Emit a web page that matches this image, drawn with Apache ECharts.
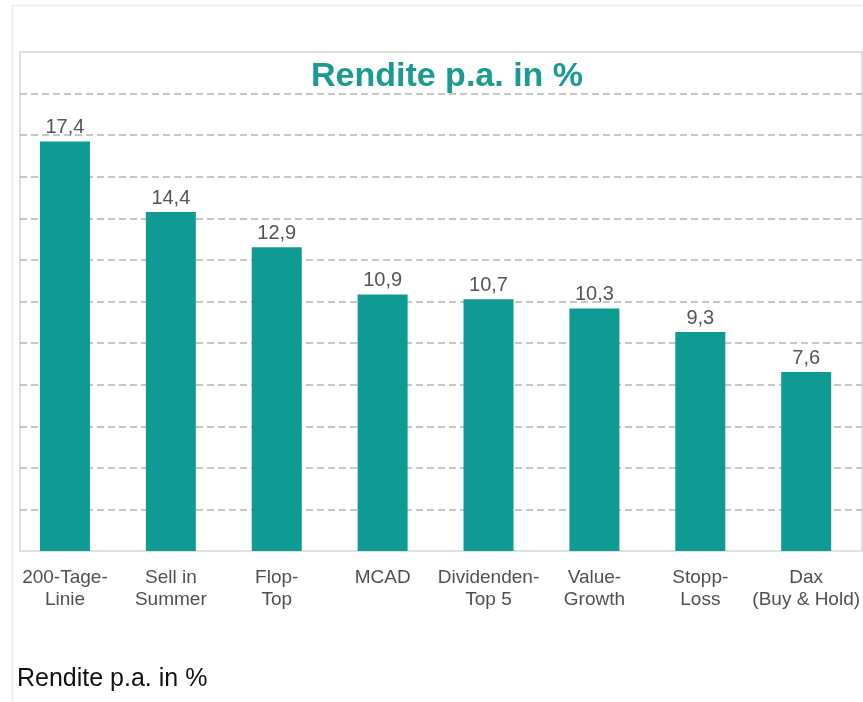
<!DOCTYPE html>
<html>
<head>
<meta charset="utf-8">
<script src="https://cdn.jsdelivr.net/npm/echarts@6/dist/echarts.min.js"></script>
<style>
  html, body { margin: 0; padding: 0; background: #fff; }
  #chart { width: 863px; height: 702px; }
</style>
</head>
<body>
<div id="chart"></div>
<script>
const categories = [
  "200-Tage-\nLinie",
  "Sell in\nSummer",
  "Flop-\nTop",
  "MCAD",
  "Dividenden-\nTop 5",
  "Value-\nGrowth",
  "Stopp-\nLoss",
  "Dax\n(Buy & Hold)"
];
const rendite = [17.4, 14.4, 12.9, 10.9, 10.7, 10.3, 9.3, 7.6];

const teal = "#0f9a93";
const valueMax = 21.2;      // value scale of the bars
const gridSteps = 12;       // number of dashed bands in the frame

const chart = echarts.init(document.getElementById("chart"), null, { renderer: "canvas" });

chart.setOption({
  animation: false,
  backgroundColor: "#fff",
  title: [
    {
      text: "Rendite p.a. in %",
      left: 306,
      top: 55,
      textStyle: {
        color: "#1a9a93",
        fontFamily: "Liberation Sans",
        fontWeight: "bold",
        fontSize: 34
      }
    },
    {
      text: "Rendite p.a. in %",
      left: 12,
      top: 662,
      textStyle: {
        color: "#111",
        fontFamily: "Liberation Sans",
        fontWeight: "normal",
        fontSize: 25
      }
    }
  ],
  graphic: [
    {
      type: "rect",
      shape: { x: 12.5, y: 5.5, width: 900, height: 750 },
      style: { fill: "none", stroke: "#ececec", lineWidth: 1.5 },
      z: -1
    }
  ],
  grid: [
    // frame + dashed grid lines
    { left: 20, right: 1, top: 52, bottom: 151, show: true, borderColor: "#d6d6d6", borderWidth: 1.5 },
    // bars
    { left: 12, right: 3, top: 52, bottom: 151 }
  ],
  xAxis: [
    {
      gridIndex: 0,
      type: "category",
      data: categories,
      show: false
    },
    {
      gridIndex: 1,
      type: "category",
      data: categories,
      axisLine: { show: false },
      axisTick: { show: false },
      axisLabel: {
        color: "#505050",
        fontFamily: "Liberation Sans",
        fontSize: 19,
        lineHeight: 22,
        margin: 16,
        interval: 0
      }
    }
  ],
  yAxis: [
    {
      gridIndex: 0,
      type: "value",
      min: 0,
      max: gridSteps,
      interval: 1,
      axisLine: { show: false },
      axisTick: { show: false },
      axisLabel: { show: false },
      splitLine: {
        showMinLine: false,
        showMaxLine: false,
        lineStyle: { color: "#b5b5b5", type: [7, 4], width: 1.5 }
      }
    },
    {
      gridIndex: 1,
      type: "value",
      min: 0,
      max: valueMax,
      show: false,
      splitLine: { show: false }
    }
  ],
  series: [
    {
      type: "bar",
      xAxisIndex: 1,
      yAxisIndex: 1,
      data: rendite,
      barWidth: 50,
      itemStyle: { color: teal },
      label: {
        show: true,
        position: "top",
        distance: 4,
        color: "#555",
        fontFamily: "Liberation Sans",
        fontSize: 20,
        formatter: (p) => p.value.toFixed(1).replace(".", ",")
      },
      z: 3
    }
  ]
});
</script>
</body>
</html>
